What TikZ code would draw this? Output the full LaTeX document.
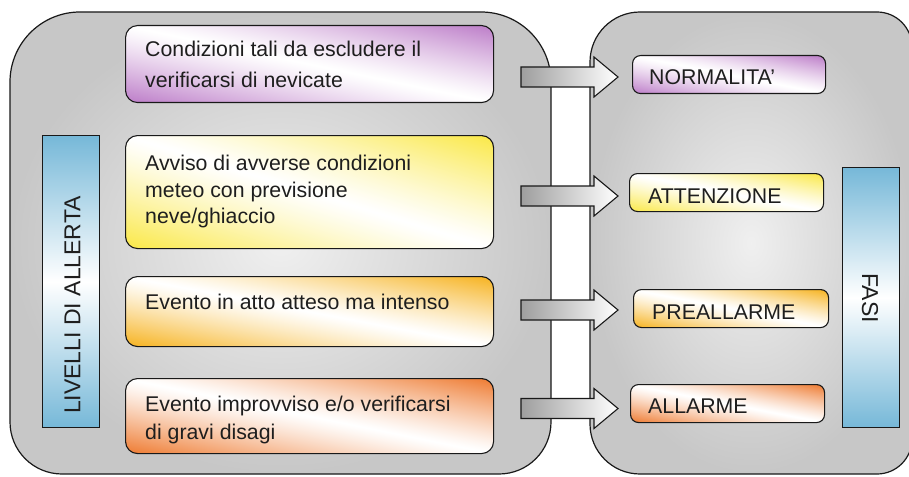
\documentclass[tikz,border=0pt]{standalone}
\usepackage{fontspec}
\setmainfont{Liberation Sans}
\definecolor{purp}{RGB}{188,124,200}
\definecolor{yel}{RGB}{250,232,70}
\definecolor{oraA}{RGB}{246,178,30}
\definecolor{oraB}{RGB}{238,122,48}
\definecolor{barblue}{RGB}{118,184,216}
\definecolor{txt}{RGB}{30,30,30}
\definecolor{edge}{RGB}{25,25,25}
\colorlet{cc}{purp}
\pgfdeclarefunctionalshading[cc]{boxdiag}{\pgfpointorigin}{\pgfpoint{100bp}{100bp}}{\pgfshadecolortorgb{cc}{\myc}}{add 100 sub abs 50 div 1.2 exp dup 1 \mycred\space sub mul 1 exch sub exch dup 1 \mycgreen\space sub mul 1 exch sub exch 1 \mycblue\space sub mul 1 exch sub}
\begin{document}
\begin{tikzpicture}[x=1pt,y=-1pt,
  panel/.style={draw=edge, line width=1.2pt, inner color=black!6, outer color=black!22},
  boxshade/.style={/utils/exec={\colorlet{cc}{#1}}, shading=boxdiag},
  lbox/.style={draw=edge, line width=1.1pt, rounded corners=12pt, minimum width=368pt, anchor=north west, inner sep=0pt},
  rbox/.style={draw=edge, line width=1.1pt, rounded corners=8pt, minimum height=38pt, anchor=north west, inner sep=0pt},
  ltxt/.style={anchor=base west, inner sep=0pt, text=txt, font=\fontsize{21.3}{25}\selectfont},
  vbar/.style={draw=edge, line width=1.1pt, top color=barblue, bottom color=barblue, middle color=white, anchor=north west, inner sep=0pt, minimum width=57pt},
  vtxt/.style={inner sep=0pt, text=txt, font=\fontsize{23}{27}\selectfont},
  barrow/.style={draw=edge, line width=1.1pt, left color=black!38, right color=white}
]
\useasboundingbox (0,0) rectangle (909,476);
\clip (0,0) rectangle (909,476);
% panels
\path[panel] (10,240) [rounded corners=70pt] -- (10,12) -- (551,12) -- (551,240) [rounded corners=52pt] -- (551,474) -- (10,474) -- cycle;
\path[panel] (750,12) [rounded corners=35pt] -- (912,12) -- (912,474) -- (750,474) [rounded corners=50pt] -- (590,474) -- (590,12) -- cycle;
% left boxes
\node[lbox, boxshade=purp, minimum height=77pt] (b1) at (125,25) {};
\node[lbox, boxshade=yel, minimum height=113pt] (b2) at (125,135) {};
\node[lbox, boxshade=oraA, minimum height=70pt] (b3) at (125,276) {};
\node[lbox, boxshade=oraB, minimum height=75pt] (b4) at (125,378) {};
\node[ltxt] (t1a) at (145,57) {Condizioni tali da escludere il};
\node[ltxt] (t1b) at (145,88) {verificarsi di nevicate};
\node[ltxt] (t2a) at (145,170) {Avviso di avverse condizioni};
\node[ltxt] (t2b) at (145,197) {meteo con previsione};
\node[ltxt] (t2c) at (145,223) {neve/ghiaccio};
\node[ltxt] (t3a) at (145,309) {Evento in atto atteso ma intenso};
\node[ltxt] (t4a) at (145,411) {Evento improvviso e/o verificarsi};
\node[ltxt] (t4b) at (145,439) {di gravi disagi};
% right boxes
\node[rbox, boxshade=purp, minimum width=193pt] (r1) at (632,55) {};
\node[rbox, boxshade=yel, minimum width=194pt] (r2) at (629,173) {};
\node[rbox, boxshade=oraA, minimum width=195pt] (r3) at (633,289) {};
\node[rbox, boxshade=oraB, minimum width=194pt] (r4) at (630,384) {};
\node[ltxt] (n1) at (649,85) {NORMALITA’};
\node[ltxt] (n2) at (648,203) {ATTENZIONE};
\node[ltxt] (n3) at (652,319) {PREALLARME};
\node[ltxt] (n4) at (648,413) {ALLARME};
% side bars
\node[vbar, minimum height=292pt] (lbar) at (42,135) {};
\node[vtxt, rotate=90] (ltit) at (72.5,305) {LIVELLI DI ALLERTA};
\node[vbar, minimum height=260pt] (rbar) at (842,167) {};
\node[vtxt, rotate=-90] (rtit) at (870,298) {FASI};
% block arrows
\foreach \yc in {77,196,310,408.5}{
  \path[barrow] (521,{\yc-10}) -- (594,{\yc-10}) -- (594,{\yc-20}) -- (618,\yc) -- (594,{\yc+20}) -- (594,{\yc+10}) -- (521,{\yc+10}) -- cycle;
}
\end{tikzpicture}
\end{document}
